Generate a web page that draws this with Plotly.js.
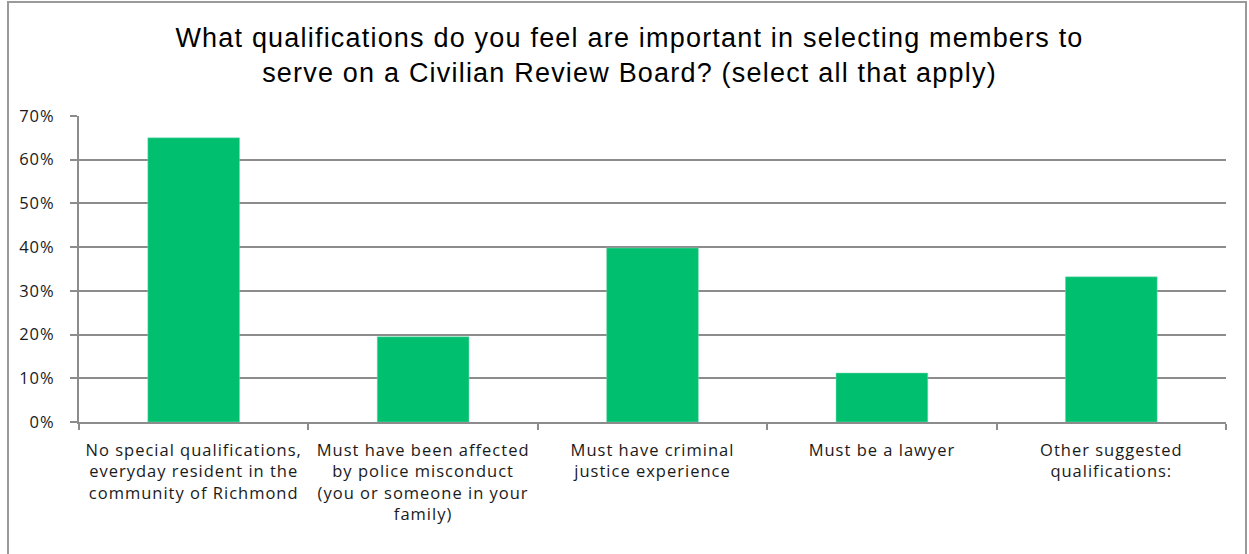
<!DOCTYPE html>
<html>
<head>
<meta charset="utf-8">
<script src="https://cdn.plot.ly/plotly-3.0.1.min.js"></script>
<style>
  html, body { margin: 0; padding: 0; background: #fff; }
  #frame { position: absolute; left: 7px; top: 1px; width: 1240px; height: 600px; border: 2px solid #9a9a9a; box-sizing: border-box; }
  #chart { position: absolute; left: 0; top: 0; width: 1249px; height: 554px; }
  .xtick text, .ytick text { letter-spacing: 1px; }
  .gtitle { letter-spacing: 1.2px; }
</style>
</head>
<body>
<div id="frame"></div>
<div id="chart"></div>
<script>
const titleText = "What qualifications do you feel are important in selecting members to<br>serve on a Civilian Review Board? (select all that apply)";
const categories = [
  "No special qualifications,<br>everyday resident in the<br>community of Richmond",
  "Must have been affected<br>by police misconduct<br>(you or someone in your<br>family)",
  "Must have criminal<br>justice experience",
  "Must be a lawyer",
  "Other suggested<br>qualifications:"
];
const values = [0.65, 0.195, 0.398, 0.112, 0.332];
const yTickVals = [0, 0.1, 0.2, 0.3, 0.4, 0.5, 0.6, 0.7];

const trace = {
  type: 'bar',
  x: categories,
  y: values,
  marker: { color: '#00bf6f', line: { color: '#7fdcb4', width: 0.5 } },
  width: 0.4,
  hoverinfo: 'skip'
};

const tickFont = { family: 'Open Sans, sans-serif', size: 16.5, color: '#1a1a1a' };

const layout = {
  width: 1249, height: 554,
  paper_bgcolor: 'rgba(0,0,0,0)',
  plot_bgcolor: 'rgba(0,0,0,0)',
  margin: { l: 79, r: 23, t: 116, b: 132 },
  showlegend: false,
  title: {
    text: titleText,
    font: { family: 'Liberation Sans, Arial, sans-serif', size: 27, color: '#000' },
    x: 0.504, xref: 'container', xanchor: 'center',
    y: 0.915, yanchor: 'top', yref: 'container'
  },
  font: tickFont,
  xaxis: {
    type: 'category',
    showline: true, linecolor: '#8c8c8c', linewidth: 2,
    ticks: 'outside', tickson: 'boundaries', ticklen: 6, tickcolor: '#8c8c8c', tickwidth: 2,
    ticklabelstandoff: 12,
    showgrid: false,
    tickfont: tickFont,
    automargin: false
  },
  yaxis: {
    range: [0, 0.7],
    tickvals: yTickVals,
    tickformat: '.0%',
    showline: true, linecolor: '#8c8c8c', linewidth: 2,
    ticks: 'outside', ticklen: 7, tickcolor: '#8c8c8c', tickwidth: 2,
    ticklabelstandoff: 12,
    showgrid: true, gridcolor: '#8c8c8c', gridwidth: 2,
    zeroline: false,
    tickfont: tickFont,
    automargin: false
  }
};

Plotly.newPlot('chart', [trace], layout, { displayModeBar: false, staticPlot: true });
</script>
</body>
</html>
